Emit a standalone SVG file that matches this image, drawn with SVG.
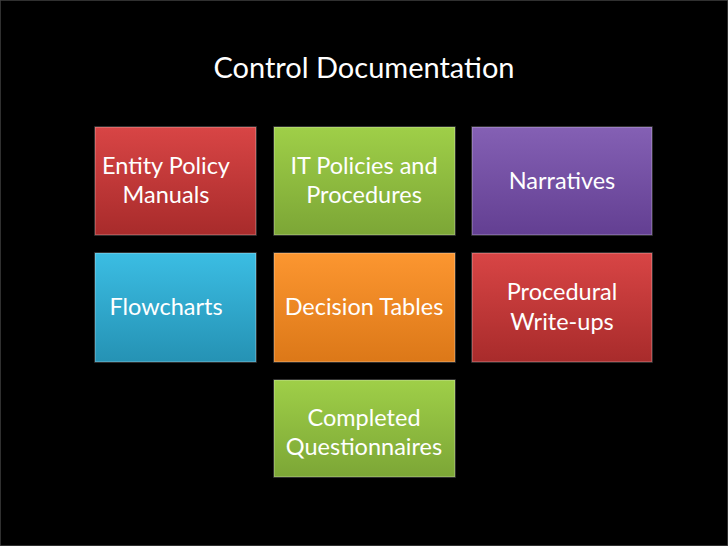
<svg xmlns="http://www.w3.org/2000/svg" width="728" height="546" viewBox="0 0 728 546">
<defs>
<linearGradient id="red" x1="0" y1="0" x2="0" y2="1"><stop offset="0" stop-color="#d84545"/><stop offset="1" stop-color="#a82b2b"/></linearGradient>
<linearGradient id="green" x1="0" y1="0" x2="0" y2="1"><stop offset="0" stop-color="#9fcf48"/><stop offset="1" stop-color="#7ca636"/></linearGradient>
<linearGradient id="purple" x1="0" y1="0" x2="0" y2="1"><stop offset="0" stop-color="#8460b4"/><stop offset="1" stop-color="#633f92"/></linearGradient>
<linearGradient id="blue" x1="0" y1="0" x2="0" y2="1"><stop offset="0" stop-color="#3bbde3"/><stop offset="1" stop-color="#2592b4"/></linearGradient>
<linearGradient id="orange" x1="0" y1="0" x2="0" y2="1"><stop offset="0" stop-color="#fc9630"/><stop offset="1" stop-color="#dc7818"/></linearGradient>
</defs>
<style>
text{font-family:Lato,"Open Sans","Liberation Sans",sans-serif;fill:#fff;text-anchor:middle;font-size:23.5px}
.t{font-size:29px}
rect{stroke:#ffffff;stroke-opacity:0.25;stroke-width:1.5}
</style>
<rect width="728" height="546" fill="#000"/>
<text class="t" x="364" y="78">Control Documentation</text>
<g id="n1"><rect x="95" y="127" width="161" height="108" fill="url(#red)"/><text x="166" y="174">Entity Policy</text><text x="166" y="203">Manuals</text></g>
<g id="n2"><rect x="274" y="127" width="181" height="108" fill="url(#green)"/><text x="364" y="174">IT Policies and</text><text x="364" y="203">Procedures</text></g>
<g id="n3"><rect x="472" y="127" width="180" height="108" fill="url(#purple)"/><text x="562" y="189">Narratives</text></g>
<g id="n4"><rect x="95" y="253" width="161" height="109" fill="url(#blue)"/><text x="166" y="315">Flowcharts</text></g>
<g id="n5"><rect x="274" y="253" width="181" height="109" fill="url(#orange)"/><text x="364" y="315">Decision Tables</text></g>
<g id="n6"><rect x="472" y="253" width="180" height="109" fill="url(#red)"/><text x="562" y="300">Procedural</text><text x="562" y="330">Write-ups</text></g>
<g id="n7"><rect x="274" y="380" width="181" height="97" fill="url(#green)"/><text x="364" y="426">Completed</text><text x="364" y="455">Questionnaires</text></g>
<g id="connectors"/>
</svg>
